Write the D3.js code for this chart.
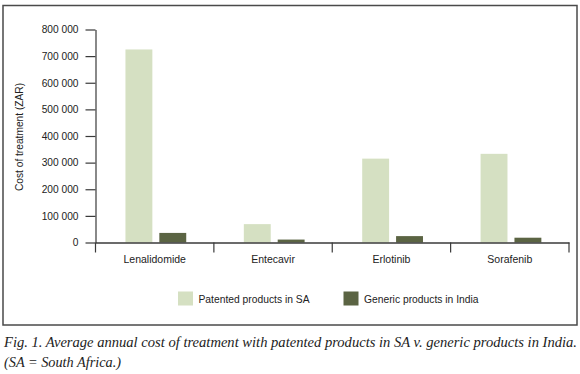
<!DOCTYPE html>
<html>
<head>
<meta charset="utf-8">
<script src="https://cdn.jsdelivr.net/npm/d3@7"></script>
<style>
  html, body { margin: 0; padding: 0; background: #fff; }
  svg { display: block; }
</style>
</head>
<body>
<svg id="chart" width="580" height="374"></svg>
<script>
const categories = ["Lenalidomide", "Entecavir", "Erlotinib", "Sorafenib"];
const seriesNames = ["Patented products in SA", "Generic products in India"];
const patentedSA = [725000, 69000, 315000, 333000];
const genericIndia = [36000, 11000, 24000, 18000];
const yTicks = [0, 100000, 200000, 300000, 400000, 500000, 600000, 700000, 800000];
const yLabel = "Cost of treatment (ZAR)";
const captionLines = [
  "Fig. 1. Average annual cost of treatment with patented products in SA v. generic products in India.",
  "(SA = South Africa.)"
];

const colors = ["#d5e0c2", "#5b6443"];
const axisColor = "#3a3a3a";
const sansFont = "'Liberation Sans', Arial, sans-serif";

const svg = d3.select("#chart");

// frame
svg.append("rect")
  .attr("x", 3).attr("y", 5.5)
  .attr("width", 574).attr("height", 319.5)
  .attr("fill", "none").attr("stroke", "#4a4a4a").attr("stroke-width", 1.5);

const x0 = d3.scaleBand().domain(categories).range([95.5, 569]).paddingInner(0).paddingOuter(0);
const x1 = d3.scaleBand().domain(seriesNames).range([0, x0.bandwidth()]).paddingInner(0.206).paddingOuter(0.85).align(0.52);
const y = d3.scaleLinear().domain([0, 800000]).range([242.5, 29.5]);

const data = categories.map((c, i) => ({cat: c, vals: [patentedSA[i], genericIndia[i]]}));

// bars
const g = svg.append("g");
data.forEach(d => {
  d.vals.forEach((v, j) => {
    g.append("rect")
      .attr("x", x0(d.cat) + x1(seriesNames[j]))
      .attr("y", y(v))
      .attr("width", x1.bandwidth())
      .attr("height", y(0) - y(v))
      .attr("fill", colors[j]);
  });
});

// y axis
const fmt = v => d3.format(",")(v).replace(/,/g, " ");
const yAxis = svg.append("g")
  .attr("transform", "translate(95.5,0)")
  .call(d3.axisLeft(y).tickValues(yTicks).tickSize(10).tickSizeOuter(0).tickPadding(7).tickFormat(fmt));
yAxis.selectAll("path, line").attr("stroke", axisColor).attr("stroke-width", 1.2);
yAxis.selectAll("text").attr("font-family", sansFont).attr("font-size", "10.2px").attr("fill", "#222");

// x axis
const xAxis = svg.append("g")
  .attr("transform", "translate(0," + y(0) + ")")
  .call(d3.axisBottom(x0).tickSize(0).tickSizeOuter(0).tickPadding(13));
xAxis.select("path").attr("stroke", axisColor).attr("stroke-width", 1.4);
xAxis.selectAll("text").attr("font-family", sansFont).attr("font-size", "10.5px").attr("fill", "#222");
const boundaries = categories.map(c => x0(c)).concat([x0.range()[1]]);
xAxis.selectAll("line.bound").data(boundaries).enter().append("line")
  .attr("class", "bound")
  .attr("x1", d => d).attr("x2", d => d)
  .attr("y1", 0).attr("y2", 10)
  .attr("stroke", axisColor).attr("stroke-width", 1.2);

// y label
svg.append("text")
  .attr("transform", "translate(23,137) rotate(-90)")
  .attr("text-anchor", "middle")
  .attr("font-family", sansFont).attr("font-size", "10.2px").attr("fill", "#222")
  .text(yLabel);

// legend
const legendX = [178, 343.5];
seriesNames.forEach((s, j) => {
  svg.append("rect")
    .attr("x", legendX[j]).attr("y", 291.5)
    .attr("width", 15).attr("height", 14)
    .attr("fill", colors[j]);
  svg.append("text")
    .attr("x", legendX[j] + 20.5).attr("y", 302.5)
    .attr("font-family", sansFont).attr("font-size", "10.3px").attr("fill", "#222")
    .text(s);
});

// caption
svg.append("text")
  .attr("x", 4).attr("y", 347)
  .attr("font-family", "'Liberation Serif', 'DejaVu Serif', serif")
  .attr("font-style", "italic").attr("font-size", "14.5px").attr("fill", "#222")
  .attr("textLength", 573).attr("lengthAdjust", "spacingAndGlyphs")
  .text(captionLines[0]);
svg.append("text")
  .attr("x", 4).attr("y", 367)
  .attr("font-family", "'Liberation Serif', 'DejaVu Serif', serif")
  .attr("font-style", "italic").attr("font-size", "14.5px").attr("fill", "#222")
  .attr("textLength", 117).attr("lengthAdjust", "spacingAndGlyphs")
  .text(captionLines[1]);
</script>
</body>
</html>
